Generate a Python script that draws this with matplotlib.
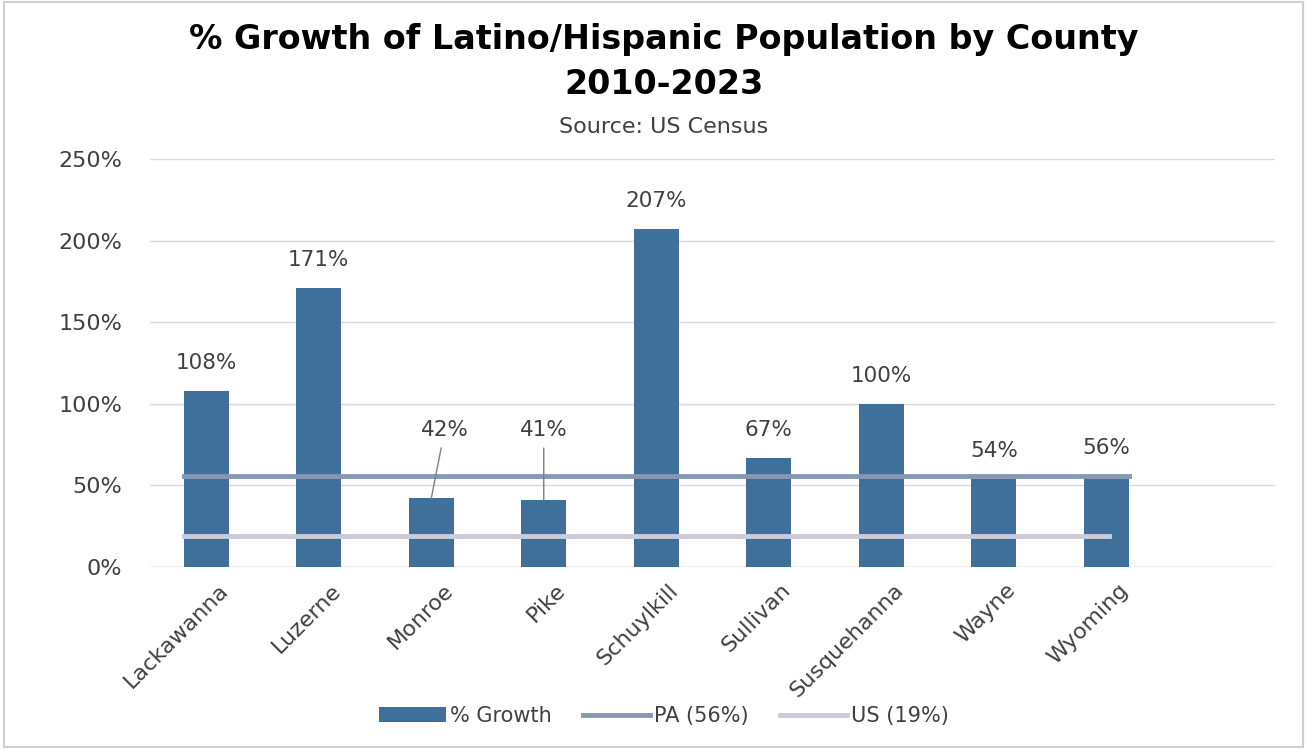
import matplotlib.pyplot as plt
import matplotlib.transforms as mtransforms
import numpy as np

counties = ["Lackawanna", "Luzerne", "Monroe", "Pike", "Schuylkill",
            "Sullivan", "Susquehanna", "Wayne", "Wyoming"]
growth = [108, 171, 42, 41, 207, 67, 100, 54, 56]
pa_rate = 56
us_rate = 19
yticks = [0, 50, 100, 150, 200, 250]

bar_color = "#3F6F9B"
pa_color = "#8797B5"
us_color = "#CBCBDB"
text_color = "#404040"

plt.rcParams["font.family"] = ["DejaVu Sans"]

fig = plt.figure(figsize=(13.07, 7.49), dpi=100)
ax = fig.add_axes([150 / 1307, 1 - 567 / 749, 1125 / 1307, 408 / 749])

x = np.arange(len(counties))
bars = ax.bar(x, growth, width=0.4, color=bar_color, zorder=2, label="% Growth")
pa_line, = ax.plot([-0.2, 8.2], [pa_rate, pa_rate], color=pa_color, lw=3.5,
                   zorder=3, label="PA (56%)")
us_line, = ax.plot([-0.2, 8.02], [us_rate, us_rate], color=us_color, lw=3.5,
                   zorder=3, label="US (19%)")

# value labels; the two short bars get labels lifted above the PA line
for i, v in enumerate(growth):
    if v < 50:
        ax.annotate(f"{v}%", xy=(i, v), xytext=(i + (0.12 if i == 2 else 0), 78),
                    ha="center", va="bottom", fontsize=15.5, color=text_color,
                    arrowprops=dict(arrowstyle="-", color="#7F7F7F", lw=1,
                                    shrinkA=4, shrinkB=0))
    else:
        ax.text(i, v + 11, f"{v}%", ha="center", va="bottom", fontsize=15.5,
                color=text_color)

ax.set_xlim(-0.5, 9.5)
ax.set_ylim(0, 250)
ax.set_yticks(yticks)
ax.set_yticklabels([f"{t}%" for t in yticks], fontsize=16, color=text_color)
ax.set_xticks(x)
ax.set_xticklabels([])
ax.tick_params(axis="y", length=0, pad=20)
ax.tick_params(axis="x", length=0)

# rotated county names, anchored a little right of each bar centre
offset = mtransforms.ScaledTranslation(0.19, -0.2, fig.dpi_scale_trans)
for i, name in enumerate(counties):
    ax.text(i, 0, name, transform=ax.get_xaxis_transform() + offset,
            rotation=45, ha="right", va="center", rotation_mode="anchor",
            fontsize=16, color=text_color)

ax.grid(axis="y", color="#D9D9D9", lw=1, zorder=0)
for s in ax.spines.values():
    s.set_visible(False)
ax.axhline(0, color="#D9D9D9", lw=1, zorder=1)

cx = 664 / 1307
fig.text(cx, 1 - 40 / 749, "% Growth of Latino/Hispanic Population by County",
         ha="center", va="center", fontsize=24, fontweight="bold", color="black")
fig.text(cx, 1 - 85 / 749, "2010-2023", ha="center", va="center",
         fontsize=24, fontweight="bold", color="black")
fig.text(cx, 1 - 127 / 749, "Source: US Census", ha="center", va="center",
         fontsize=16, color=text_color)

fig.legend(handles=[bars, pa_line, us_line], loc="center",
           bbox_to_anchor=(664 / 1307, 1 - 716 / 749), ncol=3, frameon=False,
           fontsize=15, handlelength=3.2, handletextpad=0.2, columnspacing=1.5,
           labelcolor=text_color)

border = plt.Rectangle((0.003, 0.003), 0.994, 0.994, transform=fig.transFigure,
                       fill=False, edgecolor="#D0D0D0", lw=1.5)
fig.patches.append(border)

fig.savefig("out.png", dpi=100)
